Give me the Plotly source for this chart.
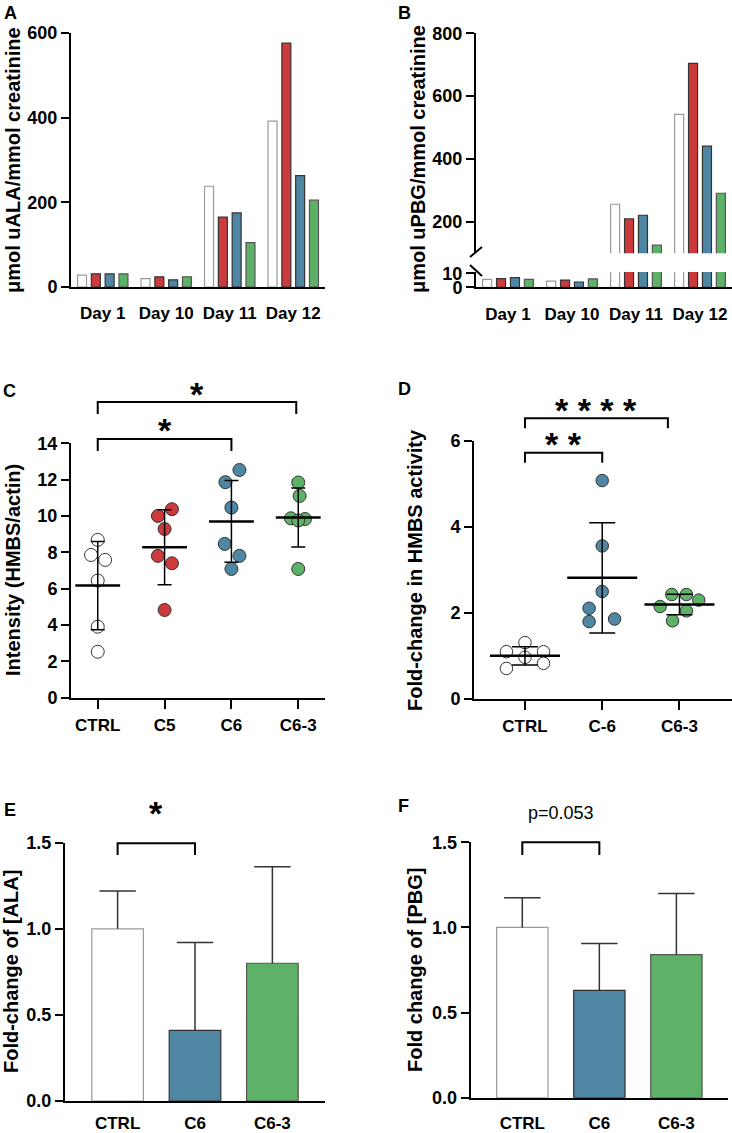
import numpy as np
import plotly.graph_objects as go

W, H = 732, 1133
FONT = "Liberation Sans, Arial, sans-serif"

days = ["Day 1", "Day 10", "Day 11", "Day 12"]
groups4 = ["CTRL", "C5", "C6", "C6-3"]

# A: µmol uALA / mmol creatinine
ala_ctrl = [28, 20, 238, 392]
ala_c5 = [31, 24, 165, 576]
ala_c6 = [31, 17, 175, 263]
ala_c63 = [31, 24, 105, 205]

# B: µmol uPBG / mmol creatinine
pbg_ctrl = [5.7, 4.5, 256, 542]
pbg_c5 = [6.2, 5.2, 210, 704]
pbg_c6 = [6.9, 3.8, 221, 441]
pbg_c63 = [5.7, 6.0, 126, 291]

# C: HMBS/actin intensity (individual animals)
int_ctrl = [8.68, 7.85, 7.58, 6.44, 3.90, 2.52]
int_c5 = [10.37, 10.00, 9.28, 7.80, 7.39, 4.82]
int_c6 = [12.53, 11.86, 10.46, 8.46, 7.80, 7.08]
int_c63 = [11.84, 11.10, 9.87, 9.83, 9.75, 7.08]
jit_c = [[0, -0.1, 0.11, 0, 0, 0],
         [0.11, -0.1, 0, -0.1, 0.11, 0],
         [0.12, -0.09, 0, -0.1, 0.12, 0],
         [0, 0.02, -0.11, 0.1, 0, 0]]

# D: fold-change in HMBS activity
groups3_d = ["CTRL", "C-6", "C6-3"]
act_ctrl = [1.31, 1.10, 1.10, 0.97, 0.83, 0.71]
act_c6 = [5.08, 3.56, 2.50, 2.11, 1.86, 1.80]
act_c63 = [2.43, 2.43, 2.30, 2.15, 2.05, 1.82]
jit_d = [[0, -0.24, 0.24, 0, 0.24, -0.24],
         [0, 0, 0, -0.17, 0.16, -0.17],
         [-0.1, 0.09, 0.25, -0.25, 0.09, -0.09]]

# E / F: fold change of [ALA] and [PBG], mean and SD
groups3 = ["CTRL", "C6", "C6-3"]
ala_mean = [1.0, 0.41, 0.80]
ala_sd = [0.22, 0.51, 0.56]
pbg_mean = [1.0, 0.63, 0.84]
pbg_sd = [0.175, 0.275, 0.36]

fill = {"CTRL": "white", "C5": "#cc3a3c", "C6": "#4e86a3", "C6-3": "#5eb267"}
edge = {"CTRL": "#9a9a9a", "C5": "#333333", "C6": "#333333", "C6-3": "#555555"}


def px(x):
    return x / W


def py(y):
    return 1 - y / H


fig = go.Figure()

# ---- A and B: grouped bars ----
for name, a_vals, b_vals in zip(groups4, [ala_ctrl, ala_c5, ala_c6, ala_c63],
                                [pbg_ctrl, pbg_c5, pbg_c6, pbg_c63]):
    style = dict(marker=dict(color=fill[name], line=dict(color=edge[name], width=1.2)),
                 showlegend=False, name=name)
    fig.add_trace(go.Bar(x=days, y=a_vals, xaxis="x", yaxis="y", **style))
    fig.add_trace(go.Bar(x=days, y=b_vals, xaxis="x2", yaxis="y2", **style))
    fig.add_trace(go.Bar(x=days, y=b_vals, xaxis="x2", yaxis="y3", **style))


# ---- C and D: dot plots with mean ± SD ----
def dot_panel(sets, jits, names, xa, ya, msize, mean_w, cap_w):
    means, sds = [], []
    for i, (vals, jit, name) in enumerate(zip(sets, jits, names)):
        key = "C6" if name == "C-6" else name
        fig.add_trace(go.Scatter(
            x=[i + j for j in jit], y=vals, mode="markers", xaxis=xa, yaxis=ya,
            marker=dict(size=msize, color=fill[key], line=dict(color="#333333", width=1)),
            showlegend=False))
        means.append(np.mean(vals))
        sds.append(np.std(vals, ddof=1))
    fig.add_trace(go.Scatter(
        x=list(range(len(sets))), y=means, mode="markers", xaxis=xa, yaxis=ya,
        marker=dict(symbol="line-ew", size=mean_w, line=dict(color="black", width=2.5)),
        error_y=dict(type="data", array=sds, width=cap_w, thickness=1.5, color="black"),
        showlegend=False))


dot_panel([int_ctrl, int_c5, int_c6, int_c63], jit_c, groups4, "x3", "y4", 13, 32, 7)
dot_panel([act_ctrl, act_c6, act_c63], jit_d, groups3_d, "x4", "y5", 12.5, 50, 13)


# ---- E and F: bars with SD (upward only) ----
def bar_panel(means, sds, xa, ya):
    xs = list(range(len(means)))
    fig.add_trace(go.Bar(
        x=xs, y=means, width=0.667, xaxis=xa, yaxis=ya,
        marker=dict(color=[fill[g] for g in groups3],
                    line=dict(color=[edge[g] for g in groups3], width=1.2)),
        showlegend=False))
    ex, ey = [], []
    for x, m, s in zip(xs, means, sds):
        ex += [x, x, None]
        ey += [m, m + s, None]
    fig.add_trace(go.Scatter(x=ex, y=ey, mode="lines", xaxis=xa, yaxis=ya,
                             line=dict(color="#333333", width=1.5), showlegend=False))
    fig.add_trace(go.Scatter(
        x=xs, y=[m + s for m, s in zip(means, sds)], mode="markers", xaxis=xa, yaxis=ya,
        marker=dict(symbol="line-ew", size=26, line=dict(color="#333333", width=1.5)),
        showlegend=False))


bar_panel(ala_mean, ala_sd, "x5", "y6")
bar_panel(pbg_mean, pbg_sd, "x6", "y7")

# ---- axes ----
tickfont = dict(family=FONT, size=18, color="black", weight="bold")
xfont = dict(family=FONT, size=17, color="black", weight="bold")
base = dict(showline=True, linewidth=2, linecolor="black", showgrid=False, zeroline=False,
            ticks="outside", tickwidth=2, tickcolor="black", ticklen=8, tickfont=tickfont)
xnotick = dict(base, ticks="", tickfont=xfont, ticklabelstandoff=10)
xtick = dict(base, ticklen=9, tickfont=xfont, ticklabelstandoff=2)

fig.update_layout(
    # A
    xaxis=dict(xnotick, domain=[px(71), px(325)], anchor="y"),
    yaxis=dict(base, domain=[py(287), py(33)], range=[0, 600], tickvals=[0, 200, 400, 600], anchor="x"),
    # B (broken axis)
    xaxis2=dict(xnotick, domain=[px(476), 1.0], anchor="y2"),
    yaxis2=dict(base, domain=[py(287.3), py(272)], range=[0, 11], tickvals=[0, 10], anchor="x2"),
    yaxis3=dict(base, domain=[py(253.3), py(33.3)], range=[100, 800], tickvals=[200, 400, 600, 800], anchor="x2"),
    # C
    xaxis3=dict(xtick, domain=[px(71), px(325)], range=[-0.4, 3.4], tickvals=[0, 1, 2, 3],
                ticktext=groups4, anchor="y4"),
    yaxis4=dict(base, domain=[py(697.5), py(443.3)], range=[0, 14], dtick=2, anchor="x3"),
    # D
    xaxis4=dict(xtick, domain=[px(474), 1.0], range=[-0.66, 2.68], tickvals=[0, 1, 2],
                ticktext=groups3_d, anchor="y5"),
    yaxis5=dict(base, domain=[py(699), py(441)], range=[0, 6], dtick=2, anchor="x4"),
    # E
    xaxis5=dict(xnotick, domain=[px(65), px(325)], range=[-0.68, 2.68], tickvals=[0, 1, 2],
                ticktext=groups3, anchor="y6", ticklabelstandoff=6),
    yaxis6=dict(base, domain=[py(1101), py(842.7)], range=[0, 1.5], tickvals=[0, 0.5, 1, 1.5],
                tickformat=".1f", anchor="x5"),
    # F
    xaxis6=dict(xnotick, domain=[px(470.7), px(728)], range=[-0.67, 2.67], tickvals=[0, 1, 2],
                ticktext=groups3, anchor="y7", ticklabelstandoff=9),
    yaxis7=dict(base, domain=[py(1097.7), py(842.3)], range=[0, 1.5], tickvals=[0, 0.5, 1, 1.5],
                tickformat=".1f", anchor="x6"),
    barmode="group", bargap=0.13, bargroupgap=0.35,
    width=W, height=H, margin=dict(l=0, r=0, t=0, b=0, autoexpand=False),
    paper_bgcolor="white", plot_bgcolor="white",
    font=dict(family=FONT, color="black"),
)

# axis break marks on B
for x0, y0, x1, y1 in [(470, 257, 482, 247), (470, 265, 482, 276)]:
    fig.add_shape(type="line", xref="paper", yref="paper", x0=px(x0), y0=py(y0), x1=px(x1), y1=py(y1),
                  line=dict(color="black", width=2))

# significance brackets
brackets = [
    ("x3", 0, 2, 439, 451, "*", 421), ("x3", 0, 2.97, 402, 414, "*", 385),
    ("x4", 0, 1, 452.7, 462.7, "* *", 435), ("x4", 0, 1.85, 418.3, 428.3, "* * * *", 400.7),
    ("x5", 0, 1, 843.3, 855, "*", 825),
]
for xr, a, b, yl, yd, txt, yt in brackets:
    fig.add_shape(type="path", xref=xr, yref="paper",
                  path=f"M {a},{py(yd)} L {a},{py(yl)} L {b},{py(yl)} L {b},{py(yd)}",
                  line=dict(color="black", width=2))
    fig.add_annotation(xref=xr, yref="paper", x=(a + b) / 2, y=py(yt), text=txt, showarrow=False,
                       yshift=-9, font=dict(family=FONT, size=34, color="black", weight="bold"))

fig.add_shape(type="path", xref="x6", yref="paper",
              path=f"M 0,{py(855)} L 0,{py(842.3)} L 1,{py(842.3)} L 1,{py(855)}",
              line=dict(color="black", width=2))
fig.add_annotation(xref="x6", yref="paper", x=0.5, y=py(825), text="p=0.053", showarrow=False,
                   font=dict(family=FONT, size=18, color="black"))

# y-axis titles
titles = [
    ("\u03bcmol uALA/mmol creatinine", 13, 160),
    ("\u03bcmol uPBG/mmol creatinine", 418, 159),
    ("Intensity (HMBS/actin)", 13, 570),
    ("Fold-change in HMBS activity", 415, 570),
    ("Fold-change of [ALA]", 11, 972),
    ("Fold change of [PBG]", 415, 970),
]
for txt, x, y in titles:
    fig.add_annotation(xref="paper", yref="paper", x=px(x), y=py(y), text=txt, textangle=-90,
                       xanchor="center", yanchor="middle", showarrow=False,
                       font=dict(family=FONT, size=20, color="black", weight="bold"))

# panel letters
for letter, x, y in [("A", 2, 1), ("B", 396, 1), ("C", 1, 379), ("D", 396, 377),
                     ("E", 2, 798), ("F", 396, 794)]:
    fig.add_annotation(xref="paper", yref="paper", x=px(x), y=py(y), xanchor="left", yanchor="top",
                       text=letter, showarrow=False,
                       font=dict(family=FONT, size=18, color="black", weight="bold"))

# the page body keeps its default 8px margin otherwise
fig.write_html("out.html", config={"displayModeBar": False},
               post_script="document.body.style.margin = '0';")
